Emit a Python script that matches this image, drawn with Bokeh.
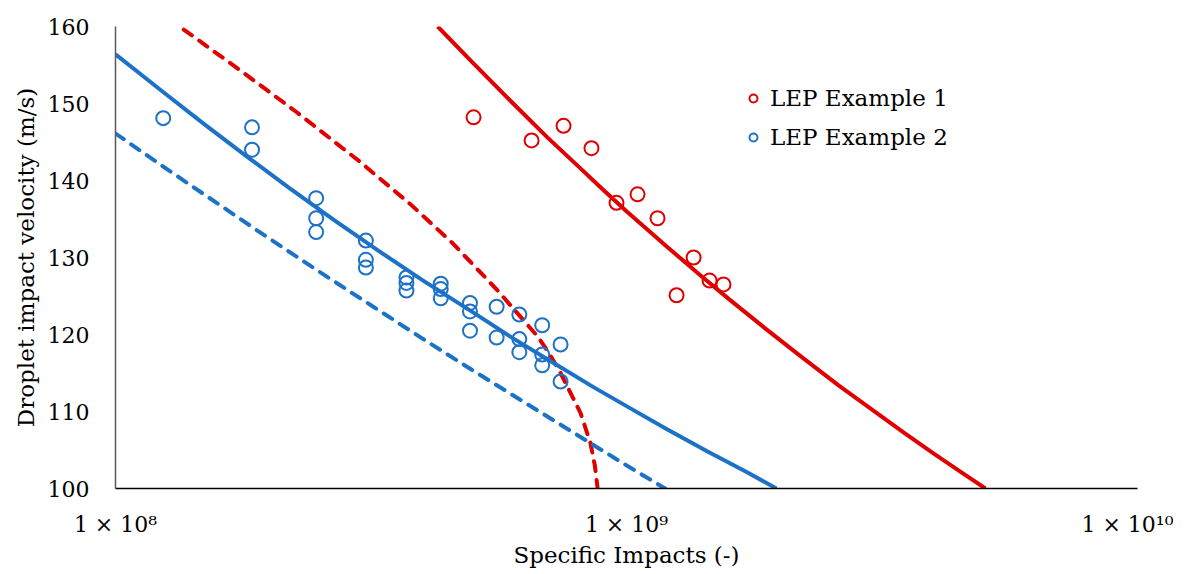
from bokeh.plotting import figure
from bokeh.models import FixedTicker, Legend, LegendItem
from bokeh.embed import file_html
from bokeh.resources import INLINE

# --- data ---
red_x = [5.02e8, 6.52e8, 7.53e8, 8.54e8, 9.56e8, 1.051e9, 1.150e9, 1.353e9, 1.253e9, 1.454e9, 1.548e9]
red_y = [148.2, 145.2, 147.1, 144.2, 137.1, 138.2, 135.1, 130.0, 125.1, 127.0, 126.5]

blue_x = [1.24e8, 1.85e8, 1.85e8, 2.47e8, 2.47e8, 2.47e8, 3.09e8, 3.09e8, 3.09e8,
          3.71e8, 3.71e8, 3.71e8, 4.33e8, 4.33e8, 4.33e8, 4.94e8, 4.94e8, 4.94e8,
          5.57e8, 5.57e8, 6.17e8, 6.17e8, 6.17e8, 6.84e8, 6.84e8, 6.84e8, 7.43e8, 7.43e8]
blue_y = [148.1, 146.9, 144.0, 137.7, 135.1, 133.3, 132.2, 129.7, 128.7,
          127.4, 126.7, 125.7, 126.6, 125.9, 124.7, 124.1, 123.0, 120.5,
          123.6, 119.6, 122.6, 119.4, 117.7, 121.2, 117.4, 116.0, 118.7, 113.9]

# fitted curve (solid) and limit curve (dashed)
red_fit_x = [4.27e8, 5.0e8, 6.0e8, 7.0e8, 8.0e8, 9.0e8, 1.0e9, 1.2e9, 1.4e9, 1.6e9,
             1.9e9, 2.2e9, 2.6e9, 3.0e9, 3.5e9, 4.0e9, 4.5e9, 5.04e9]
red_fit_y = [160.0, 155.3, 150.0, 145.6, 142.0, 138.8, 136.0, 131.4, 127.6, 124.4,
             120.4, 117.1, 113.4, 110.4, 107.2, 104.5, 102.2, 100.0]

red_lim_x = [1.36e8, 1.73e8, 2.27e8, 3.0e8, 3.78e8, 4.56e8, 5.58e8, 6.69e8, 7.05e8,
             7.43e8, 8.13e8, 8.50e8, 8.67e8, 8.78e8]
red_lim_y = [159.6, 154.6, 148.8, 142.5, 136.9, 131.9, 125.8, 119.8, 117.6,
             115.0, 109.8, 105.9, 103.0, 100.0]

blue_fit_x = [1e8, 1.25e8, 1.5e8, 1.8e8, 2.2e8, 2.7e8, 3.3e8, 4.0e8, 5.0e8, 6.0e8,
              7.2e8, 8.6e8, 1.0e9, 1.2e9, 1.45e9, 1.7e9, 1.966e9]
blue_fit_y = [156.4, 151.3, 147.2, 143.2, 138.9, 134.7, 130.7, 127.0, 122.9, 119.5,
              116.3, 113.2, 110.7, 107.7, 104.7, 102.3, 100.0]

blue_lim_x = [1e8, 1.259e8, 1.585e8, 1.995e8, 2.512e8, 3.162e8, 3.981e8, 5.012e8,
              6.31e8, 7.943e8, 1.0e9, 1.19e9]
blue_lim_y = [146.1, 141.5, 137.0, 132.5, 128.1, 123.8, 119.5, 115.3,
              111.2, 107.1, 103.0, 100.0]

x_ticks = [1e8, 1e9, 1e10]
x_tick_labels = ["1 × 10⁸", "1 × 10⁹", "1 × 10¹⁰"]
y_ticks = [100, 110, 120, 130, 140, 150, 160]

RED = "#E00000"
BLUE = "#1C72C6"
FONT = "DejaVu Serif"

p = figure(frame_width=1022, frame_height=462, x_axis_type="log",
           x_range=(1e8, 1e10), y_range=(100, 160),
           output_backend="svg", toolbar_location=None,
           min_border_left=115, min_border_right=36,
           min_border_top=26, min_border_bottom=70)
p.outline_line_color = None
p.xgrid.visible = False
p.ygrid.visible = False

for ax in (p.xaxis[0], p.yaxis[0]):
    ax.major_tick_line_color = None
    ax.minor_tick_line_color = None
    ax.major_label_text_font = FONT
    ax.major_label_text_font_size = "22px"
    ax.major_label_text_color = "#000000"
    ax.axis_label_text_font = FONT
    ax.axis_label_text_font_size = "23px"
    ax.axis_label_text_font_style = "normal"
    ax.axis_label_text_color = "#000000"

p.xaxis.ticker = FixedTicker(ticks=x_ticks)
p.xaxis.major_label_overrides = {t: l for t, l in zip(x_ticks, x_tick_labels)}
p.xaxis.axis_label = "Specific Impacts (-)"
p.xaxis.axis_line_color = "#000000"
p.xaxis.axis_line_width = 1.5
p.xaxis.major_label_standoff = 17
p.xaxis.axis_label_standoff = 2

p.yaxis.ticker = FixedTicker(ticks=y_ticks)
p.yaxis.axis_label = "Droplet impact velocity (m/s)"
p.yaxis.axis_line_color = "#595959"
p.yaxis.axis_line_width = 1.5
p.yaxis.major_label_standoff = 20
p.yaxis.axis_label_standoff = 6

p.line(red_lim_x, red_lim_y, line_color=RED, line_width=4, line_dash="10 9",
       line_cap="round", line_join="round")
p.line(blue_lim_x, blue_lim_y, line_color=BLUE, line_width=4, line_dash="10 9",
       line_cap="round", line_join="round")
p.line(red_fit_x, red_fit_y, line_color=RED, line_width=4, line_join="round")
p.line(blue_fit_x, blue_fit_y, line_color=BLUE, line_width=4, line_join="round")

r1 = p.scatter(red_x, red_y, marker="circle", size=14, fill_alpha=0, line_color=RED, line_width=2)
r2 = p.scatter(blue_x, blue_y, marker="circle", size=14, fill_alpha=0, line_color=BLUE, line_width=2)

legend = Legend(items=[LegendItem(label="LEP Example 1", renderers=[r1]),
                       LegendItem(label="LEP Example 2", renderers=[r2])],
                location=(628, 338))
legend.border_line_color = None
legend.background_fill_alpha = 0
legend.padding = 0
legend.margin = 0
legend.glyph_width = 20
legend.glyph_height = 26
legend.label_height = 26
legend.spacing = 13
legend.label_standoff = 7
legend.label_text_font = FONT
legend.label_text_font_size = "23px"
legend.label_text_color = "#000000"
p.add_layout(legend, "center")

open("out.html", "w").write(file_html(p, INLINE))
